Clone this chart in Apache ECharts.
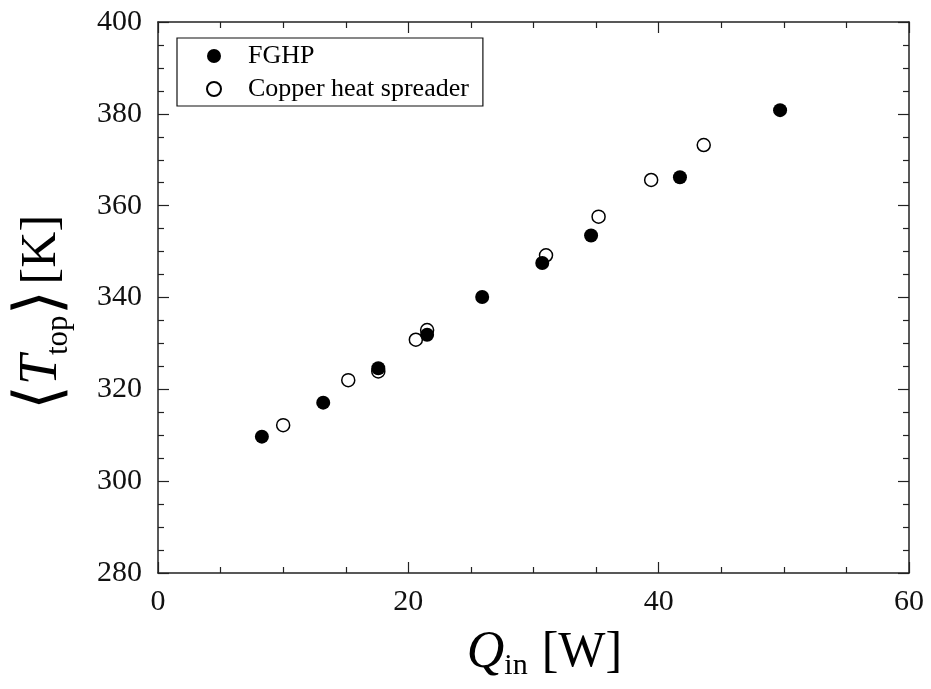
<!DOCTYPE html>
<html lang="en">
  <head>
    <meta charset="UTF-8">
    <title>Tavg vs Qin</title>
    <script src="https://cdn.jsdelivr.net/npm/echarts@6/dist/echarts.min.js"></script>
  </head>
  <body style="margin:0;background:#fff">
    <div id="main" style="width: 931px; height: 689px"></div>
    <script type="text/javascript">
      // values: Q_in [W], <T_top> [K]
      var fghpQ = [8.3, 13.2, 17.6, 21.5, 25.9, 30.7, 34.6, 41.7, 49.7];
      var fghpT = [309.7, 317.1, 324.6, 331.9, 340.1, 347.5, 353.5, 366.2, 380.8];
      var copperQ = [10.0, 15.2, 17.6, 20.6, 21.5, 31.0, 35.2, 39.4, 43.6];
      var copperT = [312.2, 322.0, 323.9, 330.8, 332.9, 349.2, 357.6, 365.6, 373.2];
      var seriesNames = ['FGHP', 'Copper heat spreader'];

      function pairs(xs, ys) {
        var out = [];
        for (var i = 0; i < xs.length; i++) out.push([xs[i], ys[i]]);
        return out;
      }

      var serif = 'Liberation Serif';
      var chart = echarts.init(document.getElementById('main'));

      var xBase = {
        type: 'value', min: 0, max: 60, interval: 20,
        axisLine: { onZero: false, lineStyle: { color: '#222', width: 1.5 } },
        axisTick: { inside: true, length: 11, lineStyle: { color: '#222', width: 1.2 } },
        minorTick: { show: true, splitNumber: 4, length: 6, lineStyle: { color: '#222', width: 1.2 } },
        splitLine: { show: false }
      };
      var yBase = {
        type: 'value', min: 280, max: 400, interval: 20,
        axisLine: { onZero: false, lineStyle: { color: '#222', width: 1.5 } },
        axisTick: { inside: true, length: 11, lineStyle: { color: '#222', width: 1.2 } },
        minorTick: { show: true, splitNumber: 4, length: 6, lineStyle: { color: '#222', width: 1.2 } },
        splitLine: { show: false }
      };

      chart.setOption({
        backgroundColor: '#fff',
        animation: false,
        grid: { left: 158, right: 22, top: 22, bottom: 116, outerBoundsMode: 'none' },
        legend: {
          orient: 'vertical',
          left: 177, top: 38,
          padding: [5, 14, 4, 29],
          itemGap: 7,
          itemWidth: 14, itemHeight: 14,
          borderColor: '#111', borderWidth: 1.2,
          data: seriesNames,
          textStyle: { fontFamily: serif, fontSize: 26, color: '#000', padding: [0, 0, 0, 22] }
        },
        xAxis: [
          Object.assign({}, xBase, {
            position: 'bottom',
            name: '{q|Q}{s|in}{n|[W]}',
            nameLocation: 'middle',
            nameGap: 52,
            nameTextStyle: {
              rich: {
                q: { fontFamily: serif, fontStyle: 'italic', fontSize: 52, color: '#000', padding: [0, 0, 0, 22] },
                s: { fontFamily: serif, fontSize: 30, color: '#000', verticalAlign: 'bottom', padding: [26, 0, 0, 0] },
                n: { fontFamily: serif, fontSize: 50, color: '#000', padding: [0, 0, 0, 14] }
              }
            },
            axisLabel: { margin: 14, fontFamily: serif, fontSize: 30, color: '#111' }
          }),
          Object.assign({}, xBase, {
            position: 'top',
            axisLabel: { show: false }
          })
        ],
        yAxis: [
          Object.assign({}, yBase, {
            position: 'left',
            name: '{b|\u27E8}{t|T}{s|top}{b|\u27E9}{n|[K]}',
            nameLocation: 'middle',
            nameRotate: 90,
            nameGap: 84,
            nameTextStyle: {
              rich: {
                b: { fontFamily: serif, fontSize: 64, color: '#000' },
                t: { fontFamily: serif, fontStyle: 'italic', fontSize: 54, color: '#000' },
                s: { fontFamily: serif, fontSize: 31, color: '#000', verticalAlign: 'bottom', padding: [27, 0, 0, 0] },
                n: { fontFamily: serif, fontSize: 50, color: '#000', padding: [0, 30, 0, 6] }
              }
            },
            axisLabel: { margin: 16, fontFamily: serif, fontSize: 30, color: '#111' }
          }),
          Object.assign({}, yBase, {
            position: 'right',
            axisLabel: { show: false }
          })
        ],
        series: [
          {
            name: seriesNames[0],
            type: 'scatter',
            symbol: 'circle',
            symbolSize: 14,
            itemStyle: { color: '#000', opacity: 1, borderWidth: 0 },
            data: pairs(fghpQ, fghpT),
            z: 3
          },
          {
            name: seriesNames[1],
            type: 'scatter',
            symbol: 'circle',
            symbolSize: 13,
            itemStyle: { color: '#fff', opacity: 1, borderColor: '#000', borderWidth: 1.5 },
            data: pairs(copperQ, copperT),
            z: 2
          }
        ]
      });
    </script>
  </body>
</html>
